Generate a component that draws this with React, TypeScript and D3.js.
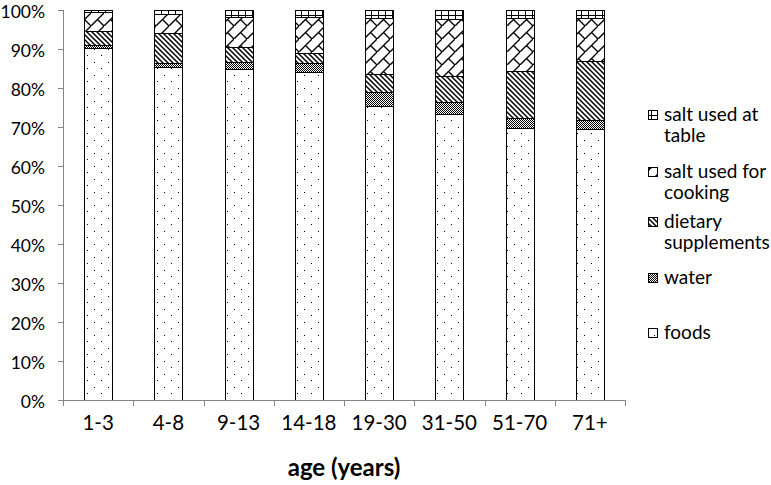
import React from 'react';
import * as d3 from 'd3';

// age groups on the x axis
const ageGroups = ['1-3', '4-8', '9-13', '14-18', '19-30', '31-50', '51-70', '71+'];

// share of sodium intake (%) by source, bottom to top
const foods = [90.3, 85.5, 85.0, 84.2, 75.4, 73.4, 69.7, 69.6];
const water = [0.7, 0.8, 1.7, 2.1, 3.5, 3.0, 2.5, 2.2];
const dietarySupplements = [3.6, 7.7, 3.9, 2.8, 4.7, 6.8, 12.2, 15.0];
const saltCooking = [4.9, 5.1, 7.5, 9.0, 14.3, 14.6, 13.5, 11.1];
const saltTable = [0.5, 0.9, 1.9, 1.9, 2.1, 2.2, 2.1, 2.1];

const yTicks = [0, 10, 20, 30, 40, 50, 60, 70, 80, 90, 100];

const seriesKeys = ['foods', 'water', 'dietary', 'cooking', 'table'];
const seriesValues: Record<string, number[]> = {
  foods,
  water,
  dietary: dietarySupplements,
  cooking: saltCooking,
  table: saltTable,
};

// legend, top to bottom, with line breaks as in the picture
const legendItems = [
  { key: 'table', lines: ['salt used at', 'table'] },
  { key: 'cooking', lines: ['salt used for', 'cooking'] },
  { key: 'dietary', lines: ['dietary', 'supplements'] },
  { key: 'water', lines: ['water'] },
  { key: 'foods', lines: ['foods'] },
];

const FONT = 'Lato, "Open Sans", sans-serif';

export default function App() {
  const width = 771;
  const height = 485;
  const left = 63;
  const right = 625;
  const top = 10;
  const bottom = 400;

  const x = d3.scaleBand<string>()
    .domain(ageGroups)
    .range([left, right])
    .paddingInner(0.6)
    .paddingOuter(0.3);

  const y = d3.scaleLinear().domain([0, 100]).range([bottom, top]);

  const rows = ageGroups.map((age, i) => {
    const r: Record<string, any> = { age };
    seriesKeys.forEach(k => { r[k] = seriesValues[k][i]; });
    return r;
  });
  const stacked = d3.stack<any>().keys(seriesKeys)(rows);

  const step = x.step();
  const boundaries = d3.range(ageGroups.length + 1).map(i => left + i * step);

  const legendBaselines = [[121, 142], [178, 199], [228, 249], [284], [339]];

  return (
    <svg width={width} height={height} style={{ position: 'absolute', left: 0, top: 0, background: '#fff' }}
      shapeRendering="crispEdges">
      <defs>
        <pattern id="p-foods" width={14} height={13} patternUnits="userSpaceOnUse">
          <rect width={14} height={13} fill="#fff" />
          <rect x={3} y={3} width={1.3} height={1.3} fill="#000" />
          <rect x={10} y={9.5} width={1.3} height={1.3} fill="#000" />
        </pattern>
        <pattern id="p-water" width={2} height={2} patternUnits="userSpaceOnUse">
          <rect width={2} height={2} fill="#fff" />
          <rect x={0} y={0} width={1} height={1} fill="#000" />
          <rect x={1} y={1} width={1} height={1} fill="#000" />
        </pattern>
        <pattern id="p-dietary" width={5} height={5} patternUnits="userSpaceOnUse">
          <rect width={5} height={5} fill="#fff" />
          <path d="M-1,-1 L6,6 M-1,4 L1,6 M4,-1 L6,1" stroke="#000" strokeWidth={1.5} shapeRendering="auto" />
        </pattern>
        <pattern id="p-cooking" width={13} height={13} patternUnits="userSpaceOnUse">
          <rect width={13} height={13} fill="#fff" />
          <path d="M-1,14 L14,-1 M6.5,6.5 L14,14" stroke="#000" strokeWidth={1.4} shapeRendering="auto" />
        </pattern>
        <pattern id="p-table" width={7} height={5} patternUnits="userSpaceOnUse">
          <rect width={7} height={5} fill="#fff" />
          <rect x={0} y={0} width={7} height={1} fill="#000" />
          <rect x={0} y={0} width={1} height={5} fill="#000" />
        </pattern>
      </defs>

      {/* y axis */}
      <line x1={left} x2={left} y1={top} y2={bottom} stroke="#868686" />
      {yTicks.map(t => (
        <g key={t}>
          <line x1={left - 5} x2={left} y1={Math.round(y(t)) + 0.5} y2={Math.round(y(t)) + 0.5} stroke="#868686" />
          <text x={45} y={y(t) + 7.5} textAnchor="end" fontFamily={FONT} fontSize={17.5} fill="#000">
            {t}%
          </text>
        </g>
      ))}

      {/* bars */}
      {stacked.map(layer => (
        <g key={layer.key}>
          {layer.map((d, i) => (
            <rect key={i}
              x={Math.round(x(ageGroups[i])!) + 0.5}
              y={Math.round(y(d[1])) + 0.5}
              width={Math.round(x.bandwidth())}
              height={Math.round(y(d[0])) - Math.round(y(d[1]))}
              fill={`url(#p-${layer.key})`}
              stroke="#000"
              strokeWidth={1}
            />
          ))}
        </g>
      ))}

      {/* x axis */}
      <line x1={left} x2={right} y1={bottom + 0.5} y2={bottom + 0.5} stroke="#868686" />
      {boundaries.map((b, i) => (
        <line key={i} x1={Math.round(b) + 0.5} x2={Math.round(b) + 0.5} y1={bottom} y2={bottom + 6} stroke="#868686" />
      ))}
      {ageGroups.map(a => (
        <text key={a} x={x(a)! + x.bandwidth() / 2} y={430} textAnchor="middle" fontFamily={FONT} fontSize={20.5} fill="#000">
          {a}
        </text>
      ))}

      <text x={344} y={476} textAnchor="middle" fontFamily={FONT} fontSize={24} fontWeight="bold" fill="#000">
        age (years)
      </text>

      {/* legend */}
      {legendItems.map((item, i) => {
        const bl = legendBaselines[i];
        const swatchY = bl[0] - 11;
        return (
          <g key={item.key}>
            <rect x={648.5} y={swatchY + 0.5} width={9} height={9} fill={`url(#p-${item.key})`} stroke="#000" />
            {item.lines.map((ln, j) => (
              <text key={j} x={664} y={bl[j]} fontFamily={FONT} fontSize={19} fill="#000">{ln}</text>
            ))}
          </g>
        );
      })}
    </svg>
  );
}
